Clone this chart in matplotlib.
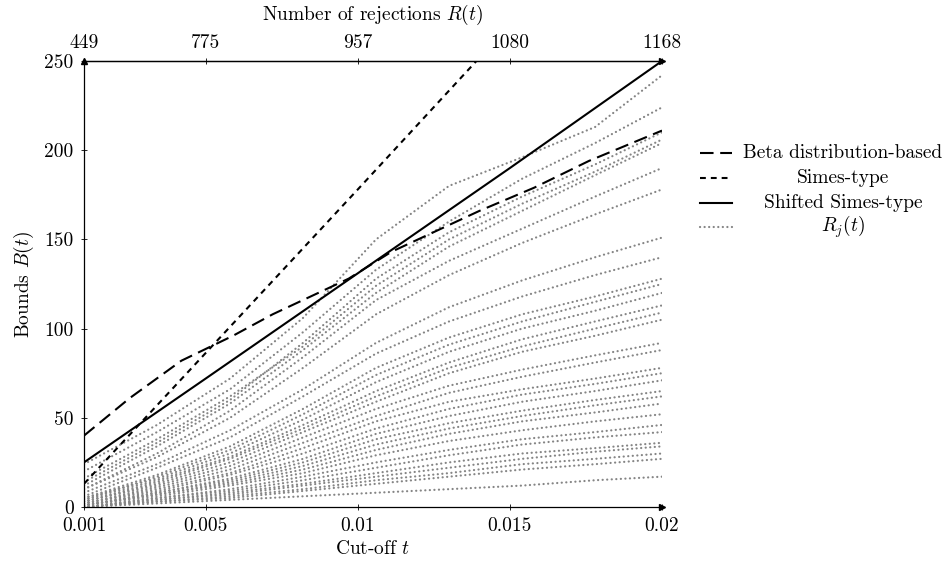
import matplotlib
matplotlib.use("Agg")
import matplotlib.pyplot as plt
from matplotlib.lines import Line2D

plt.rcParams['font.family'] = ['cmr10', 'DejaVu Serif']
plt.rcParams['mathtext.fontset'] = 'cm'
plt.rcParams['axes.formatter.use_mathtext'] = True
plt.rcParams['font.size'] = 14

# ---------------- data ----------------
x_ticks = [0.001, 0.005, 0.01, 0.015, 0.02]
x_tick_labels = ["0.001", "0.005", "0.01", "0.015", "0.02"]
top_tick_labels = ["449", "775", "957", "1080", "1168"]
y_ticks = [0, 50, 100, 150, 200, 250]

beta_t = [0.001, 0.0025, 0.0042, 0.0059, 0.0072, 0.0097, 0.0111, 0.0140, 0.0158, 0.0176, 0.020]
beta_b = [40, 61, 82, 96, 108, 128, 143, 166, 179, 194, 211]

simes_t = [0.001, 0.004, 0.007, 0.010, 0.0139]
simes_b = [13, 68, 123, 178, 250]

shifted_t = [0.001, 0.005, 0.010, 0.015, 0.020]
shifted_b = [25, 72, 131, 190, 250]

rj_t = [0.001, 0.0034, 0.0058, 0.0082, 0.0106, 0.013, 0.0154, 0.0178, 0.02]
rj_values = [
    [24, 46, 72, 106, 150, 180, 196, 213, 242],
    [20, 42, 66, 98, 133, 160, 184, 204, 224],
    [14, 36, 60, 92, 128, 154, 174, 192, 210],
    [16, 38, 62, 90, 124, 150, 170, 188, 206],
    [12, 34, 58, 88, 120, 146, 166, 186, 204],
    [10, 30, 54, 84, 116, 138, 156, 174, 190],
    [10, 28, 50, 78, 108, 130, 148, 164, 178],
    [8, 24, 43, 66, 92, 112, 127, 140, 151],
    [6, 22, 39, 62, 86, 104, 118, 130, 140],
    [5, 18, 34, 55, 78, 95, 108, 118, 128],
    [4, 17, 32, 52, 74, 91, 104, 115, 125],
    [5, 16, 30, 49, 70, 87, 100, 110, 120],
    [4, 15, 28, 46, 65, 81, 94, 104, 113],
    [3, 14, 27, 44, 62, 78, 90, 100, 109],
    [3, 13, 25, 42, 59, 75, 87, 96, 105],
    [3, 12, 23, 39, 55, 68, 77, 85, 92],
    [2, 11, 21, 36, 51, 64, 73, 81, 88],
    [2, 10, 19, 33, 48, 59, 66, 72, 78],
    [2, 9, 18, 30, 44, 55, 63, 69, 75],
    [1, 8, 16, 27, 41, 51, 59, 65, 71],
    [1, 8, 15, 25, 38, 47, 54, 60, 65],
    [1, 7, 14, 23, 35, 44, 51, 57, 62],
    [1, 7, 13, 21, 32, 41, 48, 53, 58],
    [1, 6, 12, 19, 29, 37, 43, 48, 52],
    [0, 5, 10, 17, 25, 32, 38, 42, 46],
    [0, 5, 9, 15, 22, 29, 35, 39, 42],
    [0, 4, 8, 13, 19, 25, 30, 33, 36],
    [0, 4, 7, 12, 17, 22, 27, 31, 34],
    [0, 3, 6, 10, 15, 19, 24, 27, 30],
    [0, 3, 5, 9, 13, 17, 21, 24, 27],
    [0, 2, 4, 6, 8, 10, 12, 15, 17],
]

legend_labels = ["Beta distribution-based", "Simes-type", "Shifted Simes-type", r"$R_j(t)$"]

# ---------------- figure ----------------
W, H = 949, 561
fig = plt.figure(figsize=(W / 100, H / 100), dpi=100)
ax = fig.add_axes([84 / W, 1 - 507 / H, (662 - 84) / W, (507 - 61) / H])

gray = "#858585"
dot_style = dict(color=gray, lw=1.6, ls=(0, (0.05, 2.0)), dash_capstyle='round')
for vals in rj_values:
    ax.plot(rj_t, vals, **dot_style)

beta_style = dict(color="black", lw=1.5, ls=(0, (6.5, 3.2)))
simes_style = dict(color="black", lw=1.5, ls=(0, (2.8, 2.4)))
shift_style = dict(color="black", lw=1.5, ls="-")
ax.plot(beta_t, beta_b, **beta_style)
ax.plot(simes_t, simes_b, **simes_style)
ax.plot(shifted_t, shifted_b, **shift_style)

ax.set_xlim(0.001, 0.02)
ax.set_ylim(0, 250)
ax.set_xticks(x_ticks)
ax.set_xticklabels(x_tick_labels)
ax.set_yticks(y_ticks)
ax.set_yticklabels([str(v) for v in y_ticks])
ax.spines['right'].set_visible(False)
for s in ['left', 'bottom', 'top']:
    ax.spines[s].set_linewidth(0.9)
ax.tick_params(direction='inout', length=5, width=0.6, pad=5)

ax.set_xlabel(r"Cut-off $t$", labelpad=3)
ax.set_ylabel(r"Bounds $B(t)$", labelpad=6)

ax2 = ax.twiny()
ax2.set_xlim(ax.get_xlim())
ax2.set_xticks(x_ticks)
ax2.set_xticklabels(top_tick_labels)
ax2.spines['right'].set_visible(False)
ax2.spines['left'].set_visible(False)
ax2.spines['bottom'].set_visible(False)
ax2.spines['top'].set_linewidth(0.9)
ax2.tick_params(direction='inout', length=5, width=0.6, pad=4)
ax2.set_xlabel(r"Number of rejections $R(t)$", labelpad=10)

# arrow heads at axis ends
ax.plot([1], [0], marker='>', ms=5, color='black', transform=ax.transAxes, clip_on=False)
ax.plot([1], [1], marker='>', ms=5, color='black', transform=ax.transAxes, clip_on=False)
ax.plot([0], [1], marker='^', ms=5, color='black', transform=ax.transAxes, clip_on=False)

# legend (manual, centred text like pgfplots)
styles = [beta_style, simes_style, shift_style, dot_style]
rows_y = [153, 178, 203, 227]
for lab, st, yy in zip(legend_labels, styles, rows_y):
    fy = 1 - yy / H
    fig.add_artist(Line2D([700 / W, 732 / W], [fy, fy], transform=fig.transFigure, **st))
    fig.text(843 / W, fy, lab, ha='center', va='center', fontsize=14)

fig.savefig("out.png", dpi=100)
